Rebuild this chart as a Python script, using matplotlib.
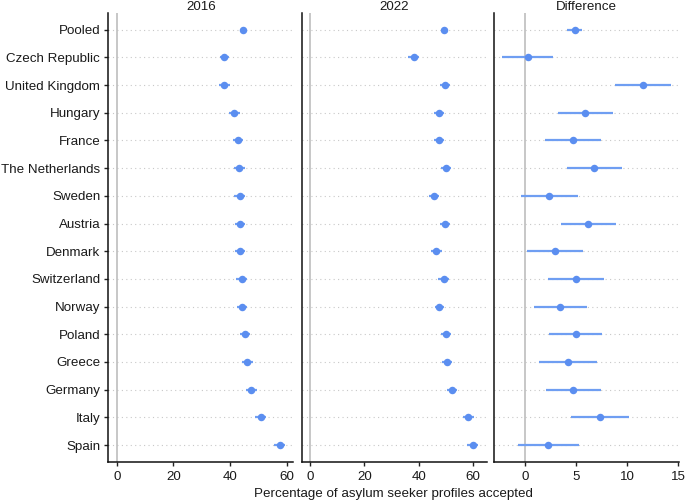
import numpy as np
import matplotlib
matplotlib.use("Agg")
import matplotlib.pyplot as plt

plt.rcParams['font.family'] = ['Liberation Sans', 'DejaVu Sans']

countries = ['Pooled', 'Czech Republic', 'United Kingdom', 'Hungary', 'France',
             'The Netherlands', 'Sweden', 'Austria', 'Denmark', 'Switzerland',
             'Norway', 'Poland', 'Greece', 'Germany', 'Italy', 'Spain']

est_2016 = [44.7, 37.9, 38.0, 41.5, 42.7, 43.2, 43.3, 43.4, 43.5, 44.1, 44.2, 45.2, 46.1, 47.4, 50.8, 57.4]
err_2016 = [0.5, 1.6, 1.9, 1.9, 1.8, 1.9, 1.9, 1.8, 1.9, 1.9, 1.8, 1.8, 1.9, 1.9, 1.9, 1.9]

est_2022 = [49.4, 38.1, 49.6, 47.4, 47.4, 50.0, 45.6, 49.7, 46.5, 49.1, 47.6, 50.0, 50.4, 52.2, 58.2, 59.8]
err_2022 = [0.5, 1.9, 1.9, 1.9, 1.9, 1.9, 2.0, 1.9, 2.0, 1.9, 1.8, 1.8, 2.0, 1.9, 2.0, 2.1]

est_diff = [4.89, 0.29, 11.55, 5.87, 4.66, 6.75, 2.35, 6.20, 2.90, 4.99, 3.46, 4.96, 4.24, 4.73, 7.34, 2.22]
lo_diff = [4.14, -2.22, 8.81, 3.20, 1.96, 4.14, -0.39, 3.55, 0.16, 2.28, 0.88, 2.35, 1.40, 2.02, 4.53, -0.65]
hi_diff = [5.55, 2.74, 14.25, 8.60, 7.40, 9.46, 5.15, 8.90, 5.70, 7.73, 6.03, 7.53, 7.05, 7.47, 10.18, 5.25]

panel_titles = ['2016', '2022', 'Difference']
xticks_sets = [[0, 20, 40, 60], [0, 20, 40, 60], [0, 5, 10, 15]]

e16 = np.array(est_2016); r16 = np.array(err_2016)
e22 = np.array(est_2022); r22 = np.array(err_2022)
ed = np.array(est_diff)
panels = [
    (e16, e16 - r16, e16 + r16),
    (e22, e22 - r22, e22 + r22),
    (ed, np.array(lo_diff), np.array(hi_diff)),
]

W, H = 685, 501
fig = plt.figure(figsize=(W / 100, H / 100), dpi=100)

lefts = [108.3, 301.7, 494.0]
width_px = 185.0
bottom_px = 461.7
top_px = 13.0

dot_color = '#5b8ef0'
bar_color = '#6f9ef2'
text_color = '#1a1a1a'
fs = 9.6

y = np.arange(len(countries))

for i, (est, lo, hi) in enumerate(panels):
    ax = fig.add_axes([lefts[i] / W, 1 - bottom_px / H, width_px / W, (bottom_px - top_px) / H])
    for yy in y:
        ax.axhline(yy, color='#c8c8c8', lw=0.8, ls=(0, (1, 3)), zorder=0)
    ax.axvline(0, color='#bdbdbd', lw=1.2, zorder=1)
    ax.hlines(y, lo, hi, color=bar_color, lw=1.6, zorder=2)
    ax.plot(est, y, 'o', color=dot_color, ms=5.4, mec='none', zorder=3)

    dmin = min(0, lo.min())
    dmax = max(0, hi.max())
    pad = 0.05 * (dmax - dmin)
    ax.set_xlim(dmin - pad, dmax + pad)
    ax.set_ylim(len(countries) - 0.4, -0.6)

    ax.set_xticks(xticks_sets[i])
    ax.set_xticklabels([str(t) for t in xticks_sets[i]], fontsize=fs, color=text_color)
    ax.set_yticks(y)
    if i == 0:
        ax.set_yticklabels(countries, fontsize=fs, color=text_color)
        ax.tick_params(axis='y', length=3, width=1, pad=2.8, color='#222222')
    else:
        ax.set_yticklabels([])
        ax.tick_params(axis='y', length=0)
    ax.tick_params(axis='x', length=3, width=1, pad=4, color='#222222')

    for s in ['top', 'right']:
        ax.spines[s].set_visible(False)
    for s in ['left', 'bottom']:
        ax.spines[s].set_linewidth(1.1)
        ax.spines[s].set_color('#111111')
    ax.set_title(panel_titles[i], fontsize=fs, color=text_color, pad=1.5)

fig.text((lefts[0] + lefts[2] + width_px) / 2 / W, 4 / H,
         'Percentage of asylum seeker profiles accepted',
         ha='center', va='baseline', fontsize=fs, color=text_color)

fig.savefig('out.png', dpi=100)
